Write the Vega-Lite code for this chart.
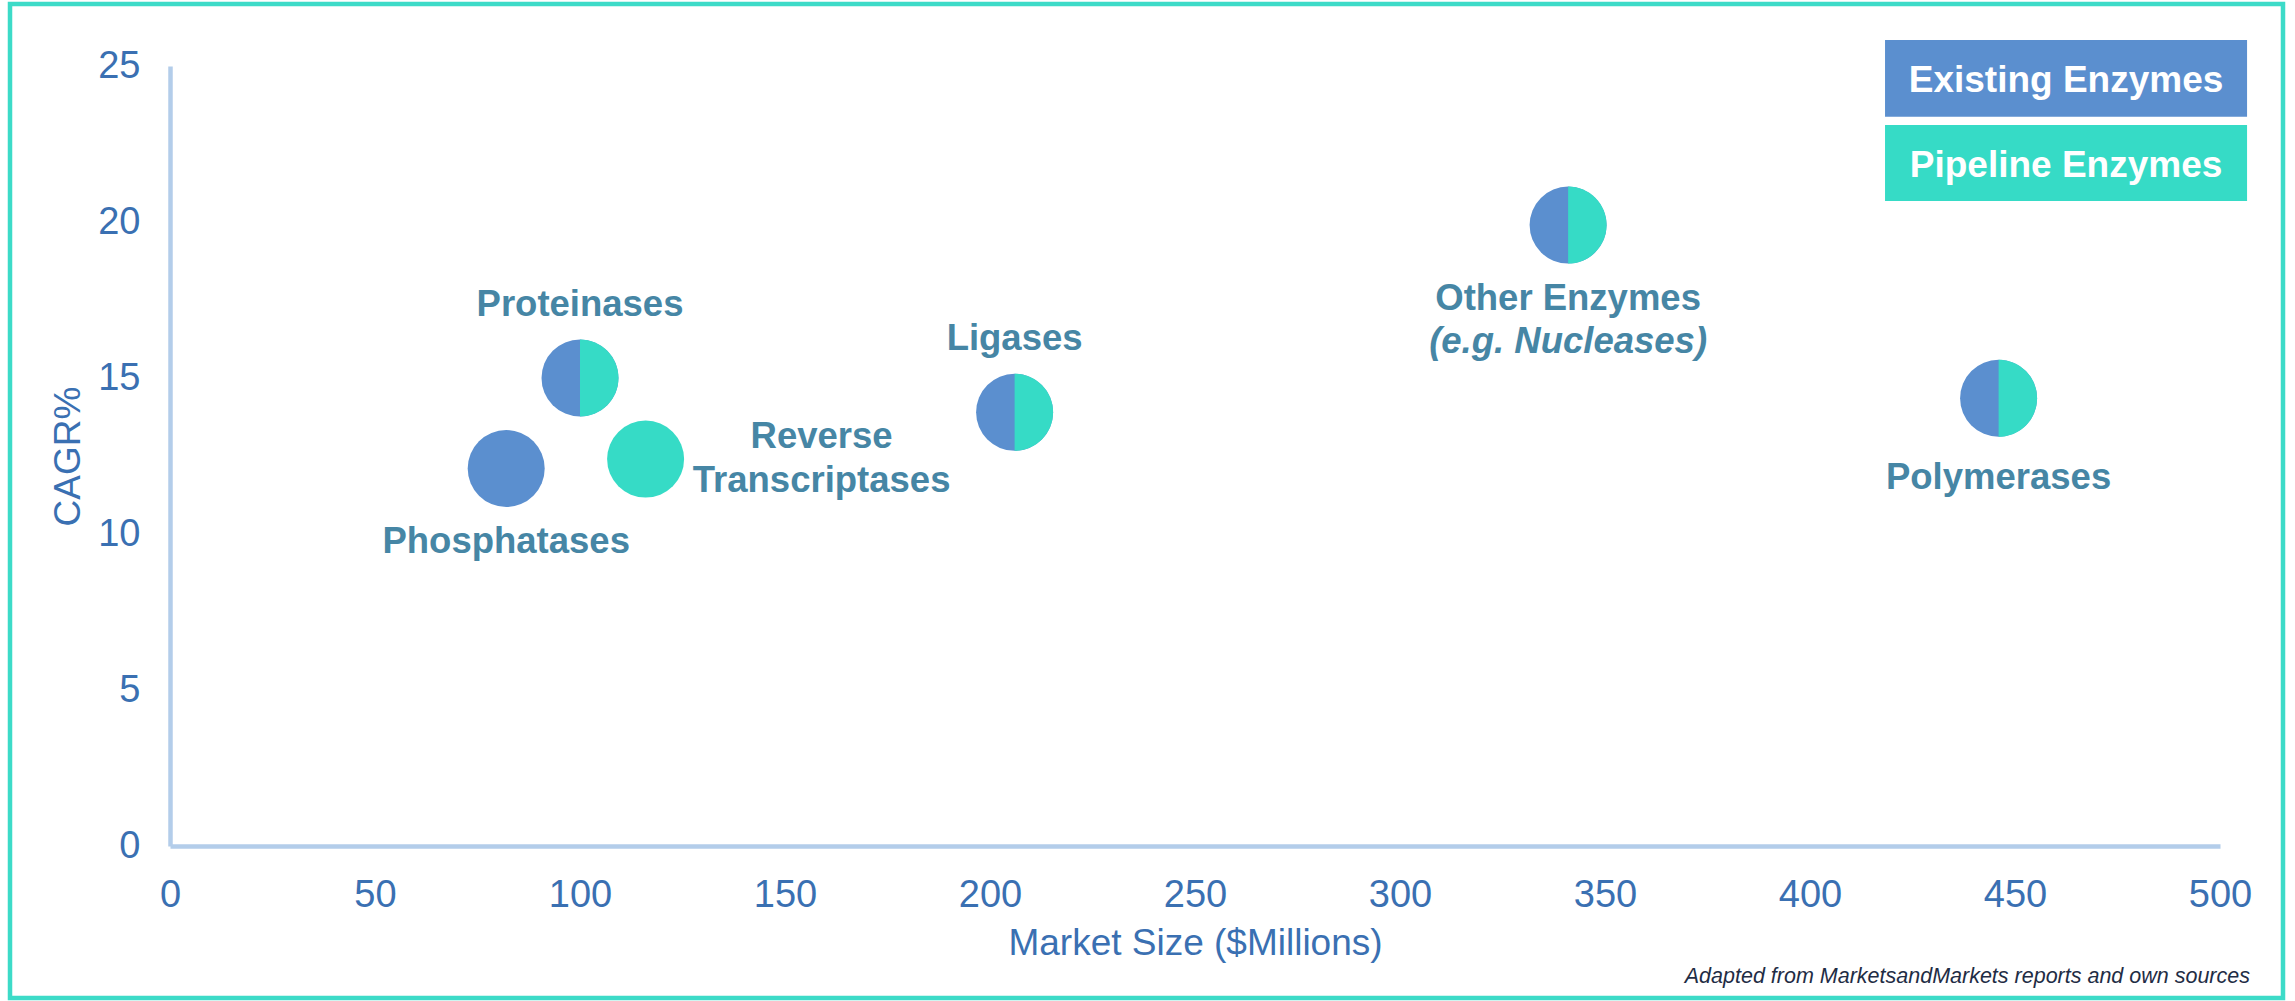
{
  "$schema": "https://vega.github.io/schema/vega-lite/v6.json",
  "width": 2273,
  "height": 994,
  "autosize": {"type": "none"},
  "padding": {"left": 10, "top": 4, "right": 12, "bottom": 3},
  "background": "white",
  "config": {
    "view": {"stroke": "#3ddbc8", "strokeWidth": 4.5},
    "font": "Liberation Sans",
    "legend": {"disable": true}
  },
  "title": {
    "text": "Adapted from MarketsandMarkets reports and own sources",
    "orient": "bottom",
    "anchor": "end",
    "frame": "group",
    "offset": -32,
    "dx": -33,
    "fontSize": 21.5,
    "fontStyle": "italic",
    "fontWeight": "normal",
    "color": "#1f2d45",
    "font": "Liberation Sans"
  },
  "datasets": {
    "enzymes": [
      {"name": "Proteinases", "market": 100, "cagr": 15.0, "status": "Both", "label": "Proteinases"},
      {"name": "Phosphatases", "market": 82, "cagr": 12.1, "status": "Existing", "label": "Phosphatases"},
      {"name": "Reverse Transcriptases", "market": 116, "cagr": 12.4, "status": "Pipeline", "label": ["Reverse", "Transcriptases"]},
      {"name": "Ligases", "market": 206, "cagr": 13.9, "status": "Both", "label": "Ligases"},
      {"name": "Other Enzymes", "market": 341, "cagr": 19.9, "status": "Both", "label": "Other Enzymes", "note": "(e.g. Nucleases)"},
      {"name": "Polymerases", "market": 446, "cagr": 14.35, "status": "Both", "label": "Polymerases"}
    ],
    "keyItems": [
      {"label": "Existing Enzymes", "status": "Existing"},
      {"label": "Pipeline Enzymes", "status": "Pipeline"}
    ]
  },
  "layer": [
    {
      "data": {"name": "enzymes"},
      "mark": {"type": "point", "filled": true, "shape": "circle", "size": 5929, "opacity": 1, "strokeWidth": 0},
      "encoding": {
        "x": {
          "field": "market",
          "type": "quantitative",
          "scale": {"domain": [0, 500], "range": [160, 2210], "nice": false},
          "axis": {
            "title": "Market Size ($Millions)",
            "values": [0, 50, 100, 150, 200, 250, 300, 350, 400, 450, 500],
            "offset": -152,
            "ticks": false,
            "tickSize": 0,
            "grid": false,
            "domainColor": "#b3cdea",
            "domainWidth": 4.5,
            "labelColor": "#3a70b2",
            "labelFontSize": 38,
            "labelPadding": 30,
            "labelFlush": false,
            "labelOverlap": false,
            "titleColor": "#3a70b2",
            "titleFontSize": 37,
            "titleFontWeight": "normal",
            "titlePadding": 11
          }
        },
        "y": {
          "field": "cagr",
          "type": "quantitative",
          "scale": {"domain": [0, 25], "range": [842, 62], "nice": false},
          "axis": {
            "title": "CAGR%",
            "values": [0, 5, 10, 15, 20, 25],
            "offset": -160,
            "ticks": false,
            "tickSize": 0,
            "grid": false,
            "domainColor": "#b3cdea",
            "domainWidth": 4.5,
            "labelColor": "#3a70b2",
            "labelFontSize": 38,
            "labelPadding": 30,
            "labelFlush": false,
            "labelOverlap": false,
            "titleColor": "#3a70b2",
            "titleFontSize": 37,
            "titleFontWeight": "normal",
            "titlePadding": 10
          }
        },
        "color": {"field": "status", "type": "nominal", "scale": {"domain": ["Existing", "Pipeline", "Both"], "range": ["#5b8fcf", "#36dbc6", "#5b8fcf"]}}
      }
    },
    {
      "data": {"name": "enzymes"},
      "transform": [{"filter": "datum.status === 'Both'"}],
      "mark": {"type": "point", "filled": true, "shape": "M0,-1A1,1 0 0 1 0,1Z", "size": 5929, "opacity": 1, "strokeWidth": 0},
      "encoding": {
        "x": {"field": "market", "type": "quantitative"},
        "y": {"field": "cagr", "type": "quantitative"},
        "color": {"datum": "Pipeline", "type": "nominal"}
      }
    },
    {
      "data": {"name": "enzymes"},
      "transform": [{"filter": "datum.name === 'Proteinases' || datum.name === 'Ligases'"}],
      "mark": {"type": "text", "fontSize": 36.5, "fontWeight": "bold", "color": "#4686a5", "dy": -73, "baseline": "middle", "align": "center"},
      "encoding": {
        "x": {"field": "market", "type": "quantitative"},
        "y": {"field": "cagr", "type": "quantitative"},
        "text": {"field": "label"}
      }
    },
    {
      "data": {"name": "enzymes"},
      "transform": [{"filter": "datum.name === 'Phosphatases' || datum.name === 'Other Enzymes'"}],
      "mark": {"type": "text", "fontSize": 36.5, "fontWeight": "bold", "color": "#4686a5", "dy": 74, "baseline": "middle", "align": "center"},
      "encoding": {
        "x": {"field": "market", "type": "quantitative"},
        "y": {"field": "cagr", "type": "quantitative"},
        "text": {"field": "label"}
      }
    },
    {
      "data": {"name": "enzymes"},
      "transform": [{"filter": "datum.name === 'Polymerases'"}],
      "mark": {"type": "text", "fontSize": 36.5, "fontWeight": "bold", "color": "#4686a5", "dy": 80, "baseline": "middle", "align": "center"},
      "encoding": {
        "x": {"field": "market", "type": "quantitative"},
        "y": {"field": "cagr", "type": "quantitative"},
        "text": {"field": "label"}
      }
    },
    {
      "data": {"name": "enzymes"},
      "transform": [{"filter": "isValid(datum.note)"}],
      "mark": {"type": "text", "fontSize": 36.5, "fontWeight": "bold", "fontStyle": "italic", "color": "#4686a5", "dy": 117, "baseline": "middle", "align": "center"},
      "encoding": {
        "x": {"field": "market", "type": "quantitative"},
        "y": {"field": "cagr", "type": "quantitative"},
        "text": {"field": "note"}
      }
    },
    {
      "data": {"name": "enzymes"},
      "transform": [{"filter": "datum.name === 'Reverse Transcriptases'"}],
      "mark": {"type": "text", "fontSize": 36.5, "fontWeight": "bold", "color": "#4686a5", "dx": 176, "dy": -22, "baseline": "middle", "align": "center", "lineHeight": 44},
      "encoding": {
        "x": {"field": "market", "type": "quantitative"},
        "y": {"field": "cagr", "type": "quantitative"},
        "text": {"field": "label"}
      }
    },
    {
      "data": {"name": "keyItems"},
      "transform": [{"filter": "datum.status === 'Existing'"}],
      "mark": {"type": "rect", "clip": false},
      "encoding": {
        "x": {"datum": 418.3, "type": "quantitative"},
        "x2": {"datum": 506.6},
        "y": {"datum": 25.83, "type": "quantitative"},
        "y2": {"datum": 23.37},
        "color": {"field": "status", "type": "nominal"}
      }
    },
    {
      "data": {"name": "keyItems"},
      "transform": [{"filter": "datum.status === 'Pipeline'"}],
      "mark": {"type": "rect", "clip": false},
      "encoding": {
        "x": {"datum": 418.3, "type": "quantitative"},
        "x2": {"datum": 506.6},
        "y": {"datum": 23.11, "type": "quantitative"},
        "y2": {"datum": 20.67},
        "color": {"field": "status", "type": "nominal"}
      }
    },
    {
      "data": {"name": "keyItems"},
      "transform": [{"filter": "datum.status === 'Existing'"}],
      "mark": {"type": "text", "fontSize": 37, "fontWeight": "bold", "color": "white", "baseline": "middle", "align": "center", "dy": 3},
      "encoding": {
        "x": {"datum": 462.45, "type": "quantitative"},
        "y": {"datum": 24.6, "type": "quantitative"},
        "text": {"field": "label"}
      }
    },
    {
      "data": {"name": "keyItems"},
      "transform": [{"filter": "datum.status === 'Pipeline'"}],
      "mark": {"type": "text", "fontSize": 37, "fontWeight": "bold", "color": "white", "baseline": "middle", "align": "center", "dy": 3},
      "encoding": {
        "x": {"datum": 462.45, "type": "quantitative"},
        "y": {"datum": 21.89, "type": "quantitative"},
        "text": {"field": "label"}
      }
    }
  ]
}
